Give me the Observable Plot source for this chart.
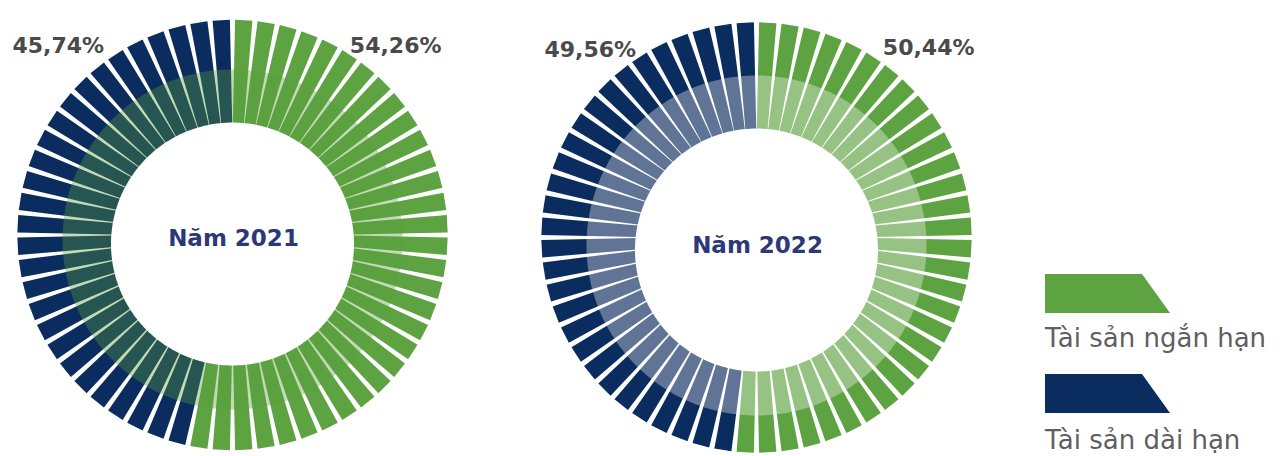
<!DOCTYPE html>
<html><head><meta charset="utf-8">
<script src="https://cdn.jsdelivr.net/npm/d3@7"></script>
<script src="https://cdn.jsdelivr.net/npm/@observablehq/plot@0.6"></script>
<style>
html,body{margin:0;padding:0;background:#fff;}
#root{position:relative;width:1281px;height:456px;overflow:hidden;font-family:"DejaVu Sans",sans-serif;}
.chart{position:absolute;top:0;}
#legend{position:absolute;left:1020px;top:250px;}
</style></head><body><div id="root"></div>
<script>
// ---- data ----
const years = ["Năm 2021", "Năm 2022"];
const seriesNames = ["Tài sản ngắn hạn", "Tài sản dài hạn"];
const shortTermPct = [54.26, 50.44];
const longTermPct = [45.74, 49.56];
const totalBars = 60;            // bars per ring as drawn
const shortTermBars = [32, 31];  // green bars per ring as drawn

// ---- styles / layout ----
const colors = {"Tài sản ngắn hạn": "#5ea342", "Tài sản dài hạn": "#0b2c5f"};
const layout = [
  {left: 0, cy: 234.5, ringDy: -4.5, ringR: 170, holeDy: -9, holeR: 121.5,
   overlay: "#5a9e3c", overlayOpacity: 0.37, titleDy: 10.5,
   pctLeft: {dx: 12, dy: 37}, pctRight: {dx: -23, dy: 37}},
  {left: 524, cy: 237, ringDy: -8, ringR: 170, holeDy: -12.5, holeR: 121.5,
   overlay: "#ffffff", overlayOpacity: 0.35, titleDy: 17.5,
   pctLeft: {dx: 20, dy: 40.5}, pctRight: {dx: -14, dy: 39}}
];
const W = 464, H = 456, R = 215, R1 = 95;
const fmt = v => v.toFixed(2).replace(".", ",") + "%";
const halfWidth = r => 2.18 + 0.0301 * r;

function buildChart(k) {
  const L = layout[k];
  const bars = [];
  for (let i = 0; i < totalBars; i++) {
    const series = i < shortTermBars[k] ? seriesNames[0] : seriesNames[1];
    const t = (i + 0.5) / totalBars * 2 * Math.PI;
    const ux = Math.sin(t), uy = Math.cos(t), vx = Math.cos(t), vy = -Math.sin(t);
    [[R1, 1], [R, 1], [R, -1], [R1, -1]].forEach(([r, s]) =>
      bars.push({bar: i, series, x: r * ux + s * halfWidth(r) * vx, y: r * uy + s * halfWidth(r) * vy}));
  }
  const circle = (dy, r) => d3.range(240).map(j => {
    const a = j / 240 * 2 * Math.PI;
    return {x: r * Math.sin(a), y: dy + r * Math.cos(a)};
  });
  const barMarks = seriesNames.map(s => Plot.line(bars.filter(d => d.series === s), {
    x: "x", y: "y", z: "bar", fill: colors[s], stroke: "none", curve: "linear-closed"
  }));
  const svg = Plot.plot({
    width: W, height: H, margin: 0,
    style: {fontFamily: "DejaVu Sans", background: "transparent", overflow: "visible"},
    x: {domain: [-W / 2, W / 2], axis: null},
    y: {domain: [L.cy - H, L.cy], axis: null},
    marks: [
      ...barMarks,
      Plot.line(circle(L.ringDy, L.ringR), {x: "x", y: "y", fill: L.overlay, fillOpacity: L.overlayOpacity, stroke: "none", curve: "linear-closed"}),
      Plot.line(circle(L.holeDy, L.holeR), {x: "x", y: "y", fill: "#ffffff", stroke: "none", curve: "linear-closed"}),
      Plot.text([years[k]], {frameAnchor: "middle", text: d => d, dy: L.titleDy, dx: 1, fontSize: 23, fontWeight: "bold", fill: "#2c3877", ariaLabel: "title"}),
      Plot.text([fmt(longTermPct[k])], {frameAnchor: "top-left", textAnchor: "start", text: d => d, dx: L.pctLeft.dx, dy: L.pctLeft.dy, fontSize: 22, fontWeight: "bold", fill: "#4a4a4a"}),
      Plot.text([fmt(shortTermPct[k])], {frameAnchor: "top-right", textAnchor: "end", text: d => d, dx: L.pctRight.dx, dy: L.pctRight.dy, fontSize: 22, fontWeight: "bold", fill: "#4a4a4a"})
    ]
  });
  d3.select(svg).selectAll('g[aria-label="title"] text').attr("letter-spacing", "1.5px");
  svg.classList.add("chart");
  svg.style.left = L.left + "px";
  return svg;
}

const root = document.getElementById("root");
years.forEach((y, k) => root.appendChild(buildChart(k)));

// legend
const legend = d3.select(root).append("svg").attr("id", "legend").attr("width", 261).attr("height", 206);
seriesNames.forEach((name, i) => {
  const g = legend.append("g").attr("transform", `translate(25,${24 + i * 100})`);
  g.append("polygon").attr("points", "0,0 97,0 125,39 0,39").attr("fill", colors[name]);
  g.append("text").attr("x", 0).attr("y", 73 + i * 2).attr("font-size", 26)
    .attr("font-family", "DejaVu Sans").attr("fill", "#5f5f5f").text(name);
});
</script></body></html>
